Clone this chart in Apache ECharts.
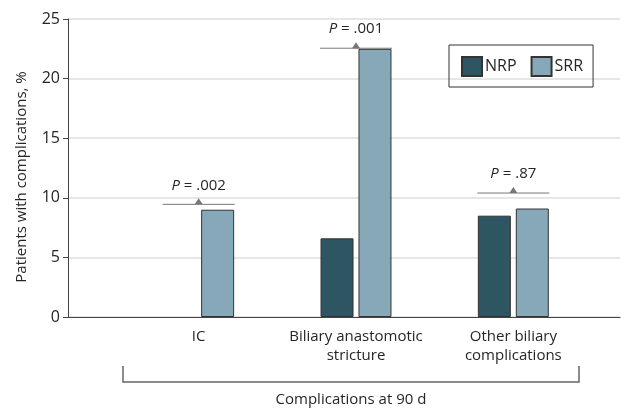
<!DOCTYPE html>
<html><head><meta charset="utf-8">
<script src="https://cdn.jsdelivr.net/npm/echarts@6/dist/echarts.min.js"></script>
<style>html,body{margin:0;padding:0;background:#fff}#c{width:621px;height:409px}</style>
</head><body><div id="c"></div>
<script>
const categories = ['IC', 'Biliary anastomotic\nstricture', 'Other biliary\ncomplications'];
const seriesNames = ['NRP', 'SRR'];
const nrpValues = [0, 6.6, 8.5];
const srrValues = [9.0, 22.5, 9.1];
const pLabels = ['.002', '.001', '.87'];
const pLevels = [9.45, 22.55, 10.4];
const yMin = 0, yMax = 25, yStep = 5;
const xTitle = 'Complications at 90 d';
const yTitle = 'Patients with complications, %';

const FONT = 'Open Sans';
const FS = 15;
const TXT = '#262626';
const chart = echarts.init(document.getElementById('c'), null, {renderer: 'canvas'});
const gTop = 19, gH = 298;
const barData = (arr) => arr.map(v => v === 0 ? {value: v, itemStyle: {borderWidth: 0}} : v);
chart.setOption({
  animation: false,
  textStyle: {fontFamily: FONT},
  grid: [
    {left: 68, right: 1, top: gTop, height: gH},
    {left: 120, right: 29, top: gTop, height: gH}
  ],
  legend: {
    data: seriesNames,
    left: 449, top: 45,
    padding: [11, 10, 10, 12],
    itemWidth: 20, itemHeight: 19, itemGap: 14,
    borderColor: '#333', borderWidth: 1, borderRadius: 0,
    icon: 'rect',
    textStyle: {fontFamily: FONT, fontSize: FS + 1, color: TXT, padding: [0, 0, 0, -2]}
  },
  xAxis: [
    {gridIndex: 0, type: 'value', min: 0, max: 1, show: true,
     axisLine: {show: true, lineStyle: {color: '#444', width: 1}},
     axisTick: {show: false}, axisLabel: {show: false}, splitLine: {show: false}},
    {gridIndex: 1, type: 'category', data: categories,
     axisLine: {show: false}, axisTick: {show: false},
     axisLabel: {fontFamily: FONT, fontSize: FS, color: TXT, margin: 10, lineHeight: 19, interval: 0}}
  ],
  yAxis: [
    {gridIndex: 0, type: 'value', min: yMin, max: yMax, interval: yStep,
     axisLine: {show: true, lineStyle: {color: '#444', width: 1}},
     axisTick: {show: true, length: 5, lineStyle: {color: '#444'}},
     axisLabel: {fontFamily: FONT, fontSize: FS + 1, color: TXT, margin: 8},
     splitLine: {show: true, lineStyle: {color: '#e6e6e6', width: 2}}},
    {gridIndex: 1, type: 'value', min: yMin, max: yMax, interval: yStep, show: false,
     splitLine: {show: false}}
  ],
  series: [
    {name: seriesNames[0], type: 'bar', xAxisIndex: 1, yAxisIndex: 1, data: barData(nrpValues),
     barWidth: 33, barGap: '15%',
     itemStyle: {color: '#2d5562', borderColor: '#333', borderWidth: 1}},
    {name: seriesNames[1], type: 'bar', xAxisIndex: 1, yAxisIndex: 1, data: barData(srrValues),
     barWidth: 33, barGap: '15%',
     itemStyle: {color: '#86a8b8', borderColor: '#333', borderWidth: 1}},
    {type: 'custom', xAxisIndex: 1, yAxisIndex: 1, z: 5,
     data: pLevels.map((v, i) => [i, v]),
     renderItem: function (params, api) {
       const p = api.coord([api.value(0), api.value(1)]);
       const half = 36;
       return {type: 'group', children: [
         {type: 'line', shape: {x1: p[0] - half, y1: p[1], x2: p[0] + half, y2: p[1]},
          style: {stroke: '#777', lineWidth: 1}},
         {type: 'polygon', shape: {points: [[p[0] - 4, p[1]], [p[0] + 4, p[1]], [p[0], p[1] - 6]]},
          style: {fill: '#777'}},
         {type: 'text', x: p[0], y: p[1] - 19,
          style: {text: '{i|P} = ' + pLabels[params.dataIndex], align: 'center', verticalAlign: 'middle',
                  fontFamily: FONT, fontSize: FS, fill: TXT,
                  rich: {i: {fontStyle: 'italic', fontFamily: FONT, fontSize: FS, fill: TXT}}}}
       ]};
     }}
  ],
  graphic: [
    {type: 'polyline', shape: {points: [[123, 366], [123, 382], [579, 382], [579, 366]]},
     style: {stroke: '#666', lineWidth: 1.5, fill: null}},
    {type: 'text', x: 351, y: 400,
     style: {text: xTitle, align: 'center', verticalAlign: 'middle', fontFamily: FONT, fontSize: FS, fill: TXT}},
    {type: 'text', x: 22, y: 177, rotation: Math.PI / 2,
     style: {text: yTitle, align: 'center', verticalAlign: 'middle', fontFamily: FONT, fontSize: FS, fill: TXT}}
  ]
});
</script></body></html>
